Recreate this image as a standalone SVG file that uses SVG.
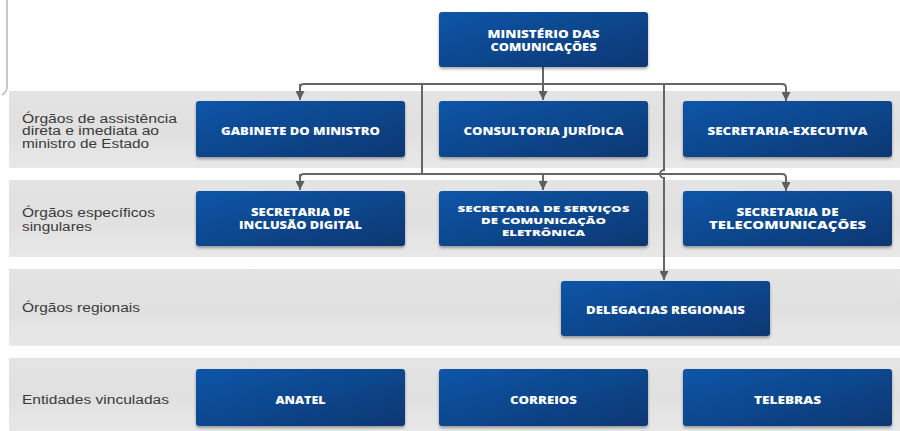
<svg xmlns="http://www.w3.org/2000/svg" width="900" height="431" viewBox="0 0 900 431">
<defs>
<linearGradient id="gBox" x1="0" y1="0" x2="1" y2="1">
<stop offset="0" stop-color="#0d56a8"/>
<stop offset="1" stop-color="#0b3772"/>
</linearGradient>
<linearGradient id="gBand" x1="0" y1="0" x2="0" y2="1">
<stop offset="0" stop-color="#e4e4e4"/>
<stop offset="0.5" stop-color="#e0e0e0"/>
<stop offset="1" stop-color="#e8e8e8"/>
</linearGradient>
<filter id="sh" x="-10%" y="-10%" width="120%" height="130%">
<feGaussianBlur in="SourceAlpha" stdDeviation="1.5"/>
<feOffset dx="0" dy="1.5"/>
<feComponentTransfer><feFuncA type="linear" slope="0.35"/></feComponentTransfer>
<feMerge><feMergeNode/><feMergeNode in="SourceGraphic"/></feMerge>
</filter>
<marker id="arr" viewBox="0 0 10 10" refX="10" refY="5" markerWidth="4.5" markerHeight="4.5" orient="auto" markerUnits="strokeWidth">
<path d="M0,0 L10,5 L0,10 z" fill="#5e5e5e"/>
</marker>
</defs>
<style>
.band{fill:url(#gBand)}
.box{fill:url(#gBox);filter:url(#sh)}
.bt{font-family:"Open Sans","DejaVu Sans",sans-serif;font-weight:800;font-size:10px;fill:#ffffff;text-anchor:middle}
.bs{font-size:9px}
.lb{font-family:"Liberation Sans",Arial,sans-serif;font-size:12px;fill:#3a3a3a}
.cn{fill:none;stroke:#666666;stroke-width:2}
</style>
<rect width="900" height="431" fill="#ffffff"/>
<g id="bands">
<rect class="band" x="9" y="91" width="891" height="77"/>
<rect class="band" x="9" y="180" width="891" height="77"/>
<rect class="band" x="9" y="269" width="891" height="77"/>
<rect class="band" x="9" y="358" width="891" height="73"/>
</g>
<g id="labels">
<text class="lb" x="22" y="122.5" textLength="155" lengthAdjust="spacingAndGlyphs">Órgãos de assistência</text>
<text class="lb" x="22" y="135" textLength="137" lengthAdjust="spacingAndGlyphs">direta e imediata ao</text>
<text class="lb" x="22" y="147.5" textLength="127" lengthAdjust="spacingAndGlyphs">ministro de Estado</text>
<text class="lb" x="22" y="217" textLength="133" lengthAdjust="spacingAndGlyphs">Órgãos específicos</text>
<text class="lb" x="22" y="230.5" textLength="70" lengthAdjust="spacingAndGlyphs">singulares</text>
<text class="lb" x="22" y="311.5" textLength="118" lengthAdjust="spacingAndGlyphs">Órgãos regionais</text>
<text class="lb" x="22" y="404" textLength="147" lengthAdjust="spacingAndGlyphs">Entidades vinculadas</text>
</g>
<g id="connectors">
<path d="M7 0 V86 Q7 92 2 95" fill="none" stroke="#c8c8c8" stroke-width="2"/>
<path class="cn" d="M543 67 V100" marker-end="url(#arr)"/>
<path class="cn" d="M300 100 V88 Q300 84 304 84 H782 Q786 84 786 88 V101" marker-end="url(#arr)"/>
<path class="cn" d="M300 84 V100" marker-end="url(#arr)"/>
<path class="cn" d="M422 84 V174"/>
<path class="cn" d="M300 190 V178 Q300 174 304 174 H782 Q786 174 786 178 V191" marker-end="url(#arr)"/>
<path class="cn" d="M300 174 V190" marker-end="url(#arr)"/>
<path class="cn" d="M543 174 V190" marker-end="url(#arr)"/>
<path class="cn" d="M664 84 V170 A4 4 0 0 0 664 178 V280" marker-end="url(#arr)"/>
</g>
<g id="n-ministerio">
<rect class="box" x="439" y="12" width="209" height="55" rx="3"/>
<text class="bt" x="543.5" y="37.5" textLength="112" lengthAdjust="spacingAndGlyphs">MINISTÉRIO DAS</text>
<text class="bt" x="543.5" y="50.5" textLength="106" lengthAdjust="spacingAndGlyphs">COMUNICAÇÕES</text>
</g>
<g id="n-gabinete">
<rect class="box" x="196" y="101" width="209" height="56" rx="3"/>
<text class="bt" x="300.5" y="134.5" textLength="159" lengthAdjust="spacingAndGlyphs">GABINETE DO MINISTRO</text>
</g>
<g id="n-consultoria">
<rect class="box" x="439" y="101" width="209" height="56" rx="3"/>
<text class="bt" x="543.5" y="134.5" textLength="160" lengthAdjust="spacingAndGlyphs">CONSULTORIA JURÍDICA</text>
</g>
<g id="n-executiva">
<rect class="box" x="683" y="101" width="209" height="56" rx="3"/>
<text class="bt" x="787.5" y="134.5" textLength="160" lengthAdjust="spacingAndGlyphs">SECRETARIA-EXECUTIVA</text>
</g>
<g id="n-inclusao">
<rect class="box" x="196" y="191" width="209" height="55" rx="3"/>
<text class="bt" x="300.5" y="216" textLength="99" lengthAdjust="spacingAndGlyphs">SECRETARIA DE</text>
<text class="bt" x="300.5" y="229" textLength="123" lengthAdjust="spacingAndGlyphs">INCLUSÃO DIGITAL</text>
</g>
<g id="n-servicos">
<rect class="box" x="439" y="191" width="209" height="55" rx="3"/>
<text class="bt bs" x="543.5" y="212" textLength="172" lengthAdjust="spacingAndGlyphs">SECRETARIA DE SERVIÇOS</text>
<text class="bt bs" x="543.5" y="224" textLength="125" lengthAdjust="spacingAndGlyphs">DE COMUNICAÇÃO</text>
<text class="bt bs" x="543.5" y="236" textLength="83" lengthAdjust="spacingAndGlyphs">ELETRÔNICA</text>
</g>
<g id="n-telecom">
<rect class="box" x="683" y="191" width="209" height="55" rx="3"/>
<text class="bt" x="787.5" y="216" textLength="102" lengthAdjust="spacingAndGlyphs">SECRETARIA DE</text>
<text class="bt" x="787.5" y="229" textLength="157" lengthAdjust="spacingAndGlyphs">TELECOMUNICAÇÕES</text>
</g>
<g id="n-delegacias">
<rect class="box" x="561" y="281" width="209" height="55" rx="3"/>
<text class="bt" x="665.5" y="313.5" textLength="159" lengthAdjust="spacingAndGlyphs">DELEGACIAS REGIONAIS</text>
</g>
<g id="n-anatel">
<rect class="box" x="196" y="369" width="209" height="57" rx="3"/>
<text class="bt" x="300.5" y="403.5" textLength="50" lengthAdjust="spacingAndGlyphs">ANATEL</text>
</g>
<g id="n-correios">
<rect class="box" x="439" y="369" width="209" height="57" rx="3"/>
<text class="bt" x="543.5" y="403.5" textLength="67" lengthAdjust="spacingAndGlyphs">CORREIOS</text>
</g>
<g id="n-telebras">
<rect class="box" x="683" y="369" width="209" height="57" rx="3"/>
<text class="bt" x="787.5" y="403.5" textLength="67" lengthAdjust="spacingAndGlyphs">TELEBRAS</text>
</g>
</svg>
